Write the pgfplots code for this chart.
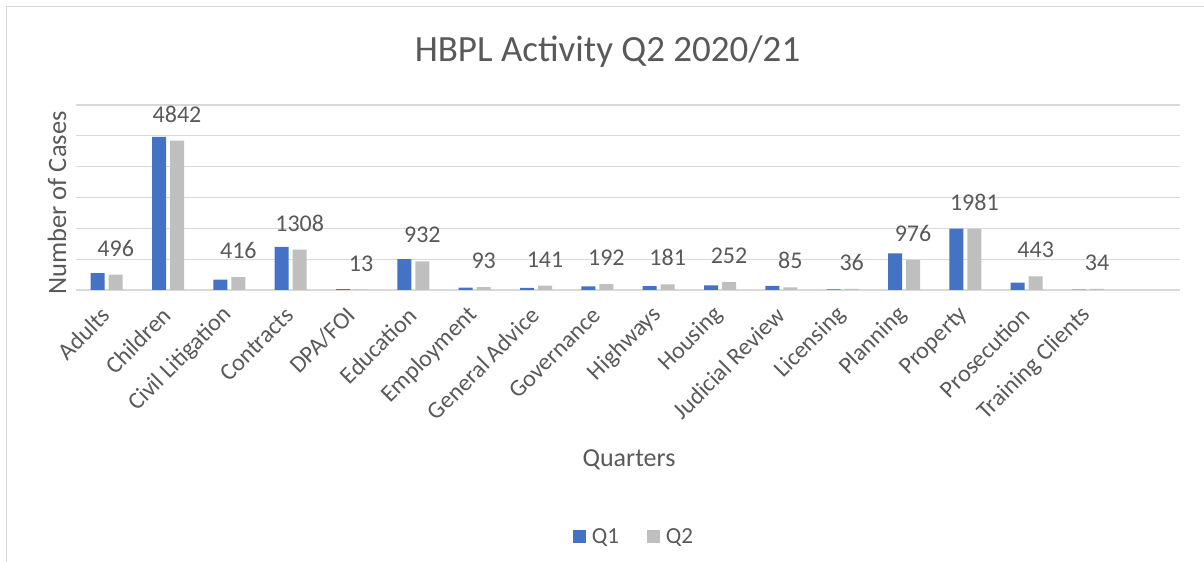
\documentclass[border=0pt]{standalone}
\usepackage{fontspec}
\setmainfont{Carlito}
\usepackage{pgfplots}
\pgfplotsset{compat=1.18}

\definecolor{qone}{HTML}{4472C4}
\definecolor{qtwo}{HTML}{BFBFBF}
\definecolor{txt}{HTML}{595959}
\definecolor{grd}{HTML}{D9D9D9}

\newcommand{\fs}[1]{\fontsize{#1}{1.2\dimexpr#1\relax}\selectfont}

\begin{document}
\begin{tikzpicture}
\path[use as bounding box] (0,0) rectangle (1204bp,562bp);
\draw[grd, line width=1.3bp] (6.5bp,0) -- (6.5bp,555.5bp) -- (1204bp,555.5bp);

\begin{axis}[
  at={(76bp,272bp)}, anchor=south west,
  scale only axis,
  width=1104bp, height=185bp,
  ybar=4bp, bar width=14bp,
  xmin=-0.5, xmax=17.5,
  ymin=0, ymax=6000,
  enlargelimits=false,
  axis line style={draw=none},
  major tick length=0pt,
  ytick={0,1000,...,6000},
  yticklabels={},
  ymajorgrids,
  grid style={grd, line width=1.3bp},
  xtick={0,...,17},
  xticklabels={Adults,Children,Civil Litigation,Contracts,DPA/FOI,Education,Employment,General Advice,Governance,Highways,Housing,Judicial Review,Licensing,Planning,Property,Prosecution,Training Clients,{}},
  xticklabel style={xshift=1.5bp, yshift=-19bp, rotate=45, anchor=east, font=\fs{24bp}, text=txt},
  /pgf/number format/.cd, 1000 sep={}, assume math mode=true, /pgfplots/.cd,
  legend columns=2,
  legend style={at={(0.5054,-1.335)}, anchor=center, draw=none, fill=none,
    font=\fs{23bp}, text=txt,
    /tikz/every odd column/.append style={column sep=4bp},
    /tikz/every even column/.append style={column sep=26bp}},
  legend image code/.code={\fill[#1] (0bp,-6bp) rectangle (13bp,7bp);},
]
\addplot[fill=qone, draw=none] coordinates {
  (0,550) (1,4970) (2,335) (3,1400) (4,30) (5,1000) (6,75) (7,70) (8,120)
  (9,125) (10,150) (11,130) (12,20) (13,1190) (14,1990) (15,240) (16,15)
};
\addlegendentry{Q1}
\addplot[fill=qtwo, draw=none,
  nodes near coords,
  every node near coord/.append style={anchor=base, yshift=18.5bp, font=\fs{24bp}, text=txt}]
  coordinates {
  (0,496) (1,4842) (2,416) (3,1308) (4,13) (5,932) (6,93) (7,141) (8,192)
  (9,181) (10,252) (11,85) (12,36) (13,976) (14,1981) (15,443) (16,34)
};
\addlegendentry{Q2}
\end{axis}

\node[anchor=base, font=\fs{37bp}, text=txt] at (607.5bp,500bp) {HBPL Activity Q2 2020/21};
\node[anchor=base, font=\fs{26bp}, text=txt] at (629bp,95bp) {Quarters};
\node[rotate=90, anchor=base, font=\fs{26.5bp}, text=txt] at (66bp,359bp) {Number of Cases};
\end{tikzpicture}
\end{document}
